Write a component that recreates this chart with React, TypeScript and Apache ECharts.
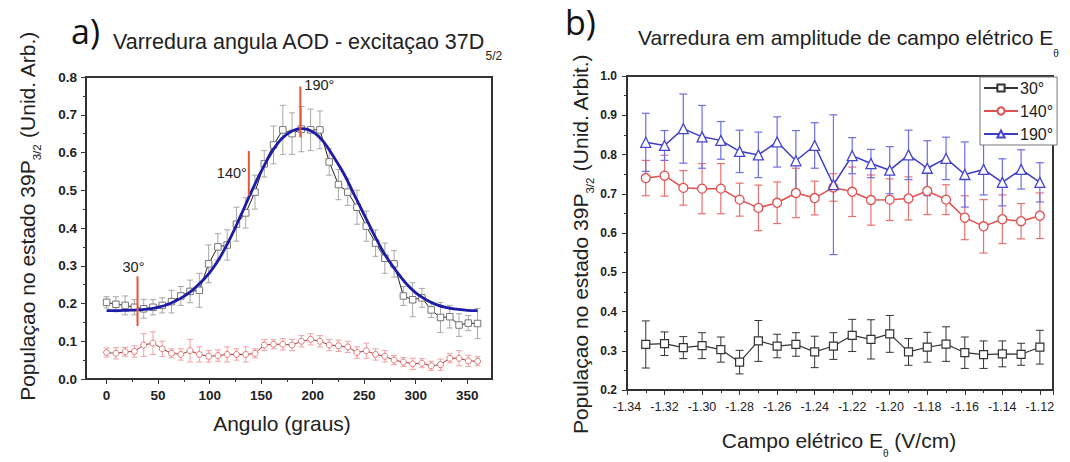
import React, { useEffect, useRef } from "react";
import * as echarts from "echarts";

const FONT = '"Liberation Sans", Arial, Helvetica, sans-serif';

// ---------- Panel a) : angular scan ----------
const angles = [0, 9, 18, 27, 36, 45, 54, 63, 72, 81, 90, 99, 108, 117, 126, 135, 144, 153, 162, 171, 180, 189, 198, 207, 216, 225, 234, 243, 252, 261, 270, 279, 288, 297, 306, 315, 324, 333, 342, 351, 360];
const pop39P = [0.203, 0.198, 0.195, 0.19, 0.186, 0.19, 0.195, 0.205, 0.22, 0.232, 0.235, 0.305, 0.35, 0.355, 0.41, 0.44, 0.495, 0.57, 0.62, 0.66, 0.65, 0.662, 0.66, 0.66, 0.575, 0.515, 0.495, 0.455, 0.405, 0.36, 0.32, 0.305, 0.22, 0.21, 0.215, 0.183, 0.163, 0.165, 0.143, 0.148, 0.147];
const pop39PErr = [0.015, 0.02, 0.025, 0.02, 0.025, 0.02, 0.02, 0.03, 0.025, 0.03, 0.045, 0.05, 0.035, 0.04, 0.045, 0.04, 0.045, 0.035, 0.05, 0.065, 0.055, 0.06, 0.055, 0.05, 0.035, 0.04, 0.035, 0.045, 0.04, 0.035, 0.04, 0.035, 0.025, 0.045, 0.025, 0.02, 0.04, 0.03, 0.03, 0.02, 0.04];
const popRed = [0.07, 0.068, 0.072, 0.073, 0.09, 0.095, 0.08, 0.068, 0.065, 0.075, 0.065, 0.06, 0.062, 0.065, 0.065, 0.065, 0.068, 0.09, 0.092, 0.092, 0.09, 0.1, 0.105, 0.1, 0.09, 0.088, 0.085, 0.07, 0.075, 0.065, 0.06, 0.05, 0.045, 0.04, 0.042, 0.035, 0.038, 0.055, 0.055, 0.048, 0.047];
const popRedErr = [0.012, 0.015, 0.012, 0.015, 0.03, 0.03, 0.02, 0.012, 0.015, 0.03, 0.02, 0.015, 0.015, 0.02, 0.015, 0.02, 0.012, 0.015, 0.012, 0.015, 0.015, 0.015, 0.015, 0.015, 0.015, 0.015, 0.015, 0.015, 0.02, 0.015, 0.015, 0.012, 0.012, 0.015, 0.012, 0.012, 0.015, 0.012, 0.02, 0.015, 0.012];
const fitAngles = [0, 10, 20, 30, 40, 50, 60, 70, 80, 90, 100, 110, 120, 130, 140, 150, 160, 170, 180, 190, 200, 210, 220, 230, 240, 250, 260, 270, 280, 290, 300, 310, 320, 330, 340, 350, 360];
const fitValues = [0.181, 0.181, 0.182, 0.183, 0.185, 0.19, 0.198, 0.211, 0.228, 0.252, 0.282, 0.322, 0.373, 0.432, 0.493, 0.55, 0.6, 0.637, 0.657, 0.663, 0.655, 0.63, 0.59, 0.545, 0.49, 0.435, 0.38, 0.33, 0.29, 0.255, 0.228, 0.21, 0.197, 0.189, 0.185, 0.182, 0.181];
const markAngles = [30, 138, 188];
const markLow = [0.14, 0.485, 0.64];
const markHigh = [0.272, 0.604, 0.775];
const markLabels = ["30°", "140°", "190°"];
const aXTicks = [0, 50, 100, 150, 200, 250, 300, 350];
const aXMinorTicks = [25, 75, 125, 175, 225, 275, 325];

// ---------- Panel b) : field amplitude scan ----------
const field = [-1.33, -1.32, -1.31, -1.3, -1.29, -1.28, -1.27, -1.26, -1.25, -1.24, -1.23, -1.22, -1.21, -1.2, -1.19, -1.18, -1.17, -1.16, -1.15, -1.14, -1.13, -1.12];
const pop30 = [0.316, 0.318, 0.308, 0.313, 0.303, 0.271, 0.325, 0.312, 0.316, 0.297, 0.312, 0.339, 0.329, 0.343, 0.297, 0.309, 0.317, 0.295, 0.29, 0.292, 0.291, 0.309];
const err30 = [0.06, 0.03, 0.028, 0.033, 0.032, 0.03, 0.052, 0.03, 0.03, 0.04, 0.034, 0.041, 0.05, 0.047, 0.034, 0.038, 0.044, 0.04, 0.035, 0.033, 0.028, 0.043];
const pop140 = [0.74, 0.746, 0.715, 0.713, 0.713, 0.685, 0.664, 0.677, 0.702, 0.689, 0.716, 0.705, 0.684, 0.685, 0.688, 0.707, 0.685, 0.639, 0.617, 0.635, 0.63, 0.644];
const err140 = [0.045, 0.052, 0.044, 0.064, 0.064, 0.042, 0.058, 0.053, 0.063, 0.043, 0.035, 0.063, 0.064, 0.053, 0.055, 0.06, 0.038, 0.056, 0.068, 0.062, 0.045, 0.058];
const pop190 = [0.831, 0.823, 0.866, 0.845, 0.836, 0.808, 0.799, 0.832, 0.784, 0.823, 0.723, 0.797, 0.777, 0.76, 0.799, 0.765, 0.79, 0.749, 0.762, 0.729, 0.762, 0.729];
const err190 = [0.074, 0.038, 0.088, 0.08, 0.048, 0.054, 0.058, 0.064, 0.077, 0.058, 0.178, 0.046, 0.036, 0.06, 0.063, 0.07, 0.054, 0.083, 0.065, 0.06, 0.05, 0.05];
const legendNames = ["30°", "140°", "190°"];

function errorBars(xIdx: number, yIdx: number, xs: number[], ys: number[], es: number[], color: string, cap: number, width: number) {
  return {
    type: "custom",
    xAxisIndex: xIdx,
    yAxisIndex: yIdx,
    silent: true,
    clip: true,
    z: 2,
    encode: { x: 0, y: [1, 2] },
    data: xs.map((x, i) => [x, ys[i] - es[i], ys[i] + es[i]]),
    renderItem: (_p: any, api: any) => {
      const lo = api.coord([api.value(0), api.value(1)]);
      const hi = api.coord([api.value(0), api.value(2)]);
      const style = { stroke: color, lineWidth: width };
      return {
        type: "group",
        children: [
          { type: "line", shape: { x1: lo[0], y1: lo[1], x2: hi[0], y2: hi[1] }, style },
          { type: "line", shape: { x1: lo[0] - cap, y1: lo[1], x2: lo[0] + cap, y2: lo[1] }, style },
          { type: "line", shape: { x1: hi[0] - cap, y1: hi[1], x2: hi[0] + cap, y2: hi[1] }, style },
        ],
      };
    },
  };
}

const axisLineStyle = { color: "#333", width: 1.5 };

function buildOption() {
  const labelA = { fontFamily: FONT, fontWeight: "bold", fontSize: 13.5, color: "#222" };
  return {
    animation: false,
    backgroundColor: "#fff",
    grid: [
      { left: 86, top: 77, width: 406, height: 302, show: true, borderColor: "#333", borderWidth: 2, backgroundColor: "transparent" },
      { left: 627, top: 76, width: 426, height: 314, show: true, borderColor: "#333", borderWidth: 2, backgroundColor: "transparent" },
    ],
    xAxis: [
      {
        gridIndex: 0, type: "value", min: -20, max: 374, position: "bottom",
        axisLine: { show: true, onZero: false, lineStyle: axisLineStyle },
        axisTick: { show: true, customValues: aXTicks, length: 5, lineStyle: { color: "#333" } },
        axisLabel: { customValues: aXTicks, margin: 9, ...labelA },
        splitLine: { show: false },
      },
      {
        gridIndex: 1, type: "value", min: -1.34, max: -1.113, interval: 0.02, position: "bottom",
        axisLine: { show: true, onZero: false, lineStyle: axisLineStyle },
        axisTick: { show: true, length: 5, lineStyle: { color: "#333" } },
        minorTick: { show: true, splitNumber: 2, length: 3, lineStyle: { color: "#333" } },
        axisLabel: { margin: 10, showMaxLabel: false, formatter: (v: number) => v.toFixed(2), fontFamily: FONT, fontSize: 12.5, color: "#222" },
        splitLine: { show: false },
        minorSplitLine: { show: false },
      },
      {
        gridIndex: 0, type: "value", min: -20, max: 374, position: "bottom",
        axisLine: { show: false, onZero: false },
        axisTick: { show: true, customValues: aXMinorTicks, length: 3, lineStyle: { color: "#333" } },
        axisLabel: { show: false },
        splitLine: { show: false },
      },
    ],
    yAxis: [
      {
        gridIndex: 0, type: "value", min: 0, max: 0.8, interval: 0.1,
        axisLine: { show: true, onZero: false, lineStyle: axisLineStyle },
        axisTick: { show: true, length: 5, lineStyle: { color: "#333" } },
        minorTick: { show: true, splitNumber: 2, length: 3, lineStyle: { color: "#333" } },
        axisLabel: { margin: 9, formatter: (v: number) => v.toFixed(1), ...labelA },
        splitLine: { show: false },
        minorSplitLine: { show: false },
      },
      {
        gridIndex: 1, type: "value", min: 0.2, max: 1.0, interval: 0.1,
        axisLine: { show: true, onZero: false, lineStyle: axisLineStyle },
        axisTick: { show: true, length: 5, lineStyle: { color: "#333" } },
        minorTick: { show: true, splitNumber: 2, length: 3, lineStyle: { color: "#333" } },
        axisLabel: { margin: 10, formatter: (v: number) => v.toFixed(1), fontFamily: FONT, fontWeight: "bold", fontSize: 12, color: "#222" },
        splitLine: { show: false },
        minorSplitLine: { show: false },
      },
    ],
    legend: {
      data: legendNames,
      orient: "vertical",
      left: 980,
      top: 77,
      backgroundColor: "#fff",
      borderColor: "#777",
      borderWidth: 1,
      padding: [3, 4, 3, 3],
      itemGap: 7,
      itemWidth: 34,
      itemHeight: 9,
      textStyle: { fontFamily: FONT, fontSize: 16, color: "#222", padding: [0, 0, 0, -3] },
    },
    series: [
      // panel a
      errorBars(0, 0, angles, popRed, popRedErr, "#f2a0a0", 3, 1),
      errorBars(0, 0, angles, pop39P, pop39PErr, "#a8a8a8", 3, 1),
      {
        name: "a-red", type: "line", xAxisIndex: 0, yAxisIndex: 0, z: 3,
        data: angles.map((a, i) => [a, popRed[i]]),
        symbol: "circle", symbolSize: 6,
        itemStyle: { color: "#fff", borderColor: "#e77373", borderWidth: 1 },
        lineStyle: { color: "#9a4040", width: 1 },
      },
      {
        name: "a-black", type: "line", xAxisIndex: 0, yAxisIndex: 0, z: 3,
        data: angles.map((a, i) => [a, pop39P[i]]),
        symbol: "rect", symbolSize: 6.5,
        itemStyle: { color: "#fff", borderColor: "#777", borderWidth: 1 },
        lineStyle: { color: "#222", width: 1 },
      },
      {
        name: "a-fit", type: "line", xAxisIndex: 0, yAxisIndex: 0, z: 4,
        data: fitAngles.map((a, i) => [a, fitValues[i]]),
        smooth: 0.4, showSymbol: false, symbol: "none",
        lineStyle: { color: "#1c1ca6", width: 2.8 },
      },
      {
        type: "custom", xAxisIndex: 0, yAxisIndex: 0, z: 6, silent: true,
        encode: { x: 0, y: [1, 2] },
        data: markAngles.map((a, i) => [a, markLow[i], markHigh[i]]),
        renderItem: (p: any, api: any) => {
          const i = p.dataIndex;
          const lo = api.coord([api.value(0), api.value(1)]);
          const hi = api.coord([api.value(0), api.value(2)]);
          let tx = hi[0], ty = hi[1], align = "center";
          if (i === 0) { tx = hi[0] - 4; ty = hi[1] - 9; align = "center"; }
          else if (i === 1) { tx = hi[0] - 2; ty = hi[1] + 22; align = "right"; }
          else { tx = hi[0] + 4; ty = hi[1] - 1; align = "left"; }
          return {
            type: "group",
            children: [
              { type: "line", shape: { x1: lo[0], y1: lo[1], x2: hi[0], y2: hi[1] }, style: { stroke: "#e4573a", lineWidth: 2 } },
              { type: "text", x: tx, y: ty, style: { text: markLabels[i], fill: "#222", fontSize: 14.5, fontFamily: FONT, align, verticalAlign: "middle" } },
            ],
          };
        },
      },
      // panel b
      errorBars(1, 1, field, pop30, err30, "#333", 4, 1),
      errorBars(1, 1, field, pop140, err140, "#ea7070", 4, 1.2),
      errorBars(1, 1, field, pop190, err190, "#6e6ee6", 4, 1.2),
      {
        name: "30°", type: "line", xAxisIndex: 1, yAxisIndex: 1, z: 3,
        data: field.map((f, i) => [f, pop30[i]]),
        symbol: "rect", symbolSize: 8,
        itemStyle: { color: "#fff", borderColor: "#333", borderWidth: 1.2 },
        lineStyle: { color: "#333", width: 1.2 },
      },
      {
        name: "140°", type: "line", xAxisIndex: 1, yAxisIndex: 1, z: 3,
        data: field.map((f, i) => [f, pop140[i]]),
        symbol: "circle", symbolSize: 9,
        itemStyle: { color: "#fff", borderColor: "#e05050", borderWidth: 1.3 },
        lineStyle: { color: "#e05050", width: 1.5 },
      },
      {
        name: "190°", type: "line", xAxisIndex: 1, yAxisIndex: 1, z: 3,
        data: field.map((f, i) => [f, pop190[i]]),
        symbol: "triangle", symbolSize: 10,
        itemStyle: { color: "#fff", borderColor: "#4545d2", borderWidth: 1.3 },
        lineStyle: { color: "#3b3bc4", width: 1.5 },
      },
    ],
    graphic: {
      elements: [
        { type: "text", x: 71, y: 31, style: { text: "a)", fontSize: 34, fontFamily: '"Open Sans", sans-serif', fill: "#111", align: "left", verticalAlign: "middle" } },
        { type: "text", x: 565, y: 22, style: { text: "b)", fontSize: 34, fontFamily: '"Open Sans", sans-serif', fill: "#111", align: "left", verticalAlign: "middle" } },
        {
          type: "text", x: 113, y: 22,
          style: {
            text: "{m|Varredura angula AOD - excitaçao 37D}{s|5/2}",
            align: "left", verticalAlign: "top",
            rich: {
              m: { fontSize: 21.5, fontFamily: FONT, fill: "#222", lineHeight: 40 },
              s: { fontSize: 12, fontFamily: FONT, fill: "#222", lineHeight: 8, verticalAlign: "bottom" },
            },
          },
        },
        {
          type: "text", x: 638, y: 16,
          style: {
            text: "{m|Varredura em amplitude de campo elétrico E}{s|θ}",
            align: "left", verticalAlign: "top",
            rich: {
              m: { fontSize: 21, fontFamily: FONT, fill: "#222", lineHeight: 42 },
              s: { fontSize: 10, fontFamily: FONT, fill: "#222", lineHeight: 4, verticalAlign: "bottom" },
            },
          },
        },
        {
          type: "text", x: 282, y: 423,
          style: { text: "Angulo (graus)", fontSize: 21, fontFamily: FONT, fill: "#222", align: "center", verticalAlign: "middle" },
        },
        {
          type: "text", x: 839, y: 440,
          style: {
            text: "{m|Campo elétrico E}{s|θ}{m| (V/cm)}",
            align: "center", verticalAlign: "middle",
            rich: {
              m: { fontSize: 21, fontFamily: FONT, fill: "#222", lineHeight: 36 },
              s: { fontSize: 10, fontFamily: FONT, fill: "#222", lineHeight: 6, verticalAlign: "bottom" },
            },
          },
        },
        {
          type: "text", x: 27, y: 216, rotation: Math.PI / 2,
          style: {
            text: "{m|Populaçao no estado 39P}{s|3/2}{m| (Unid. Arb.)}",
            align: "center", verticalAlign: "middle",
            rich: {
              m: { fontSize: 21, fontFamily: FONT, fill: "#222", lineHeight: 32 },
              s: { fontSize: 11.5, fontFamily: FONT, fill: "#222", lineHeight: 8, verticalAlign: "bottom" },
            },
          },
        },
        {
          type: "text", x: 580, y: 244, rotation: Math.PI / 2,
          style: {
            text: "{m|Populaçao no estado 39P}{s|3/2}{m| (Unid. Arbit.)}",
            align: "center", verticalAlign: "middle",
            rich: {
              m: { fontSize: 21, fontFamily: FONT, fill: "#222", lineHeight: 32 },
              s: { fontSize: 11.5, fontFamily: FONT, fill: "#222", lineHeight: 8, verticalAlign: "bottom" },
            },
          },
        },
      ],
    },
  };
}

export default function App() {
  const ref = useRef<HTMLDivElement>(null);
  useEffect(() => {
    document.body.style.margin = "0";
    const chart = echarts.init(ref.current!, null, { renderer: "svg" });
    chart.setOption(buildOption() as any);
    return () => chart.dispose();
  }, []);
  return <div ref={ref} style={{ width: 1070, height: 462, background: "#fff" }} />;
}
